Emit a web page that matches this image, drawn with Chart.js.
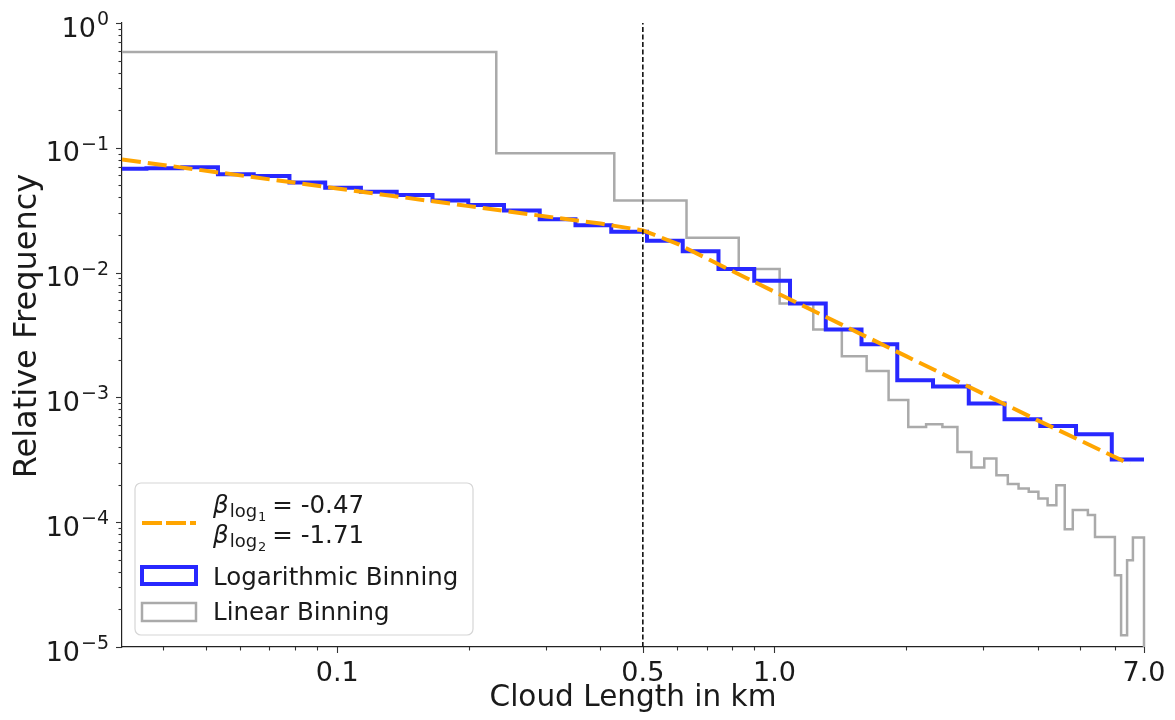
<!DOCTYPE html>
<html>
<head>
<meta charset="utf-8">
<script src="https://cdn.jsdelivr.net/npm/chart.js@4.4.1/dist/chart.umd.min.js"></script>
<style>
  html, body { margin: 0; padding: 0; background: #fff; }
  #wrap { width: 1175px; height: 720px; }
</style>
</head>
<body>
<div id="wrap"><canvas id="cloudChart" width="1175" height="720"></canvas></div>
<script>
// Logarithmic binning: bin edges (km) and relative frequency of each bin
const logEdges = [0.03034, 0.03662, 0.04421, 0.05337, 0.06443, 0.07777, 0.09388, 0.1133, 0.1368, 0.1652,
  0.1994, 0.2407, 0.2905, 0.3507, 0.4234, 0.5111, 0.6169, 0.7447, 0.8990, 1.0853,
  1.3101, 1.5815, 1.9091, 2.3046, 2.7820, 3.3583, 4.0541, 4.8939, 5.9077, 7.1316];
const logFreq = [0.0680, 0.0685, 0.0700, 0.0613, 0.0594, 0.0528, 0.0478, 0.0444, 0.0418, 0.0379,
  0.0348, 0.0314, 0.0268, 0.0240, 0.0212, 0.0180, 0.0148, 0.01071, 0.00860, 0.00566,
  0.00350, 0.00266, 0.00137, 0.00122, 0.000894, 0.000669, 0.000591, 0.000507, 0.000318];

// Linear binning
const linEdges = [0.032, 0.2311, 0.4302, 0.6293, 0.8285, 1.0276, 1.2267, 1.4258, 1.6249, 1.8240,
  2.0231, 2.2222, 2.4214, 2.6205, 2.8196, 3.0187, 3.2178, 3.4169, 3.6160, 3.8151,
  4.0142, 4.2133, 4.4125, 4.6116, 4.8107, 5.0098, 5.2089, 5.4080, 5.6071, 5.8062,
  6.0053, 6.2044, 6.4035, 6.6027, 6.8018, 7.0];
const linFreq = [0.585, 0.0903, 0.0379, 0.0190, 0.0107, 0.00566, 0.00350, 0.00214, 0.00163, 0.000951,
  0.000580, 0.000610, 0.000580, 0.000366, 0.000274, 0.000324, 0.000238, 0.000202, 0.000186, 0.000175,
  0.000155, 0.000137, 0.000198, 0.0000879, 0.000125, 0.000125, 0.000114, 0.0000762, 0.0000762, 0.0000762,
  0.0000376, 0.0000124, 0.0000496, 0.0000754, 0.0000754];

// broken power law fit
const fitX = [0.0322, 0.1, 0.2, 0.3, 0.4, 0.5, 0.6, 0.8, 1.0, 2.0, 4.0, 6.5];
const fitY = [0.0807, 0.0472, 0.0341, 0.0282, 0.0247, 0.0218, 0.0170, 0.0103, 0.00702, 0.00214, 0.000655, 0.000292];

const breakX = 0.5;
const xMin = 0.0322, xMax = 7.0;
const yMin = 1e-5, yMax = 1;

const xTicks = [0.1, 0.5, 1.0, 7.0];
const xTickLabels = ['0.1', '0.5', '1.0', '7.0'];
const xMinorTicks = [0.04, 0.05, 0.06, 0.07, 0.08, 0.09, 0.2, 0.3, 0.4, 0.6, 0.7, 0.8, 0.9, 2, 3, 4, 5, 6];
const yTicks = [1, 0.1, 0.01, 0.001, 0.0001, 0.00001];
const yTickExps = ['0', '−1', '−2', '−3', '−4', '−5'];

const FONT = '"DejaVu Sans", "Liberation Sans", sans-serif';
const BLUE = '#2828ff';
const GRAY = '#aaaaaa';
const ORANGE = '#ffa500';
const TEXT = '#1a1a1a';

// step outline of a histogram, like histtype='step'
function stepPoints(edges, freq, dropToBase) {
  const pts = freq.map((f, i) => ({x: edges[i], y: f}));
  pts.push({x: edges[edges.length - 1], y: freq[freq.length - 1]});
  if (dropToBase) pts.push({x: edges[edges.length - 1], y: yMin / 10});
  return pts;
}

// y minor ticks 2..9 x 10^k
const yMinorTicks = [];
for (let k = -5; k < 0; k++) {
  for (let m = 2; m <= 9; m++) yMinorTicks.push(m * Math.pow(10, k));
}

// tick marks (major long, minor short), 10^n labels and the y title
const tickMarks = {
  id: 'tickMarks',
  afterDraw(chart) {
    const {ctx, scales: {x, y}} = chart;
    ctx.save();
    ctx.strokeStyle = '#333';
    ctx.lineWidth = 1.1;
    const mark = (x1, y1, x2, y2) => {
      ctx.beginPath(); ctx.moveTo(x1, y1); ctx.lineTo(x2, y2); ctx.stroke();
    };
    xTicks.forEach(v => { const p = Math.round(x.getPixelForValue(v)) + 0.5; mark(p, x.top, p, x.top + 6); });
    xMinorTicks.forEach(v => { const p = Math.round(x.getPixelForValue(v)) + 0.5; mark(p, x.top, p, x.top + 3.5); });
    yTicks.forEach(v => { const p = Math.round(y.getPixelForValue(v)) + 0.5; mark(y.right - 6, p, y.right, p); });
    yMinorTicks.forEach(v => { const p = Math.round(y.getPixelForValue(v)) + 0.5; mark(y.right - 3.5, p, y.right, p); });

    // y labels: "10" with a raised exponent
    ctx.fillStyle = TEXT;
    ctx.textBaseline = 'alphabetic';
    ctx.textAlign = 'left';
    yTicks.forEach((v, i) => {
      const p = y.getPixelForValue(v);
      ctx.font = '19px ' + FONT;
      const ew = ctx.measureText(yTickExps[i]).width;
      ctx.font = '27px ' + FONT;
      const bw = ctx.measureText('10').width;
      const right = y.right - 13;
      const bx = right - ew - bw - 1;
      ctx.fillText('10', bx, p + 13.5);
      ctx.font = '19px ' + FONT;
      ctx.fillText(yTickExps[i], bx + bw + 1, p + 2);
    });

    // y axis title, a little above the middle of the axis
    ctx.save();
    ctx.translate(28, (y.top + y.bottom) / 2 - 9);
    ctx.rotate(-Math.PI / 2);
    ctx.textAlign = 'center';
    ctx.textBaseline = 'middle';
    ctx.font = '32px ' + FONT;
    ctx.fillText('Relative Frequency', 0, 0);
    ctx.restore();
    ctx.restore();
  }
};

// legend box in the lower left corner
const boxLegend = {
  id: 'boxLegend',
  afterDraw(chart) {
    const ctx = chart.ctx;
    const area = chart.chartArea;
    const left = area.left + 13, top = area.bottom - 164, w = 338, h = 152;
    ctx.save();
    ctx.beginPath();
    ctx.roundRect(left, top, w, h, 6);
    ctx.fillStyle = 'rgba(255,255,255,0.8)';
    ctx.fill();
    ctx.strokeStyle = '#d6d6d6';
    ctx.lineWidth = 1.2;
    ctx.stroke();

    const sx = left + 7, sw = 54, tx = left + 78;
    // fit line
    ctx.setLineDash([20, 4]);
    ctx.strokeStyle = ORANGE;
    ctx.lineWidth = 4;
    ctx.beginPath(); ctx.moveTo(sx, top + 40); ctx.lineTo(sx + sw, top + 40); ctx.stroke();
    ctx.setLineDash([]);
    // patches
    ctx.strokeStyle = BLUE; ctx.lineWidth = 4;
    ctx.strokeRect(sx, top + 84, sw, 17);
    ctx.strokeStyle = GRAY; ctx.lineWidth = 2.5;
    ctx.strokeRect(sx, top + 120, sw, 18);

    ctx.fillStyle = TEXT;
    ctx.textBaseline = 'alphabetic';
    ctx.textAlign = 'left';
    const beta = (base, sub, val) => {
      ctx.font = 'italic 24.5px ' + FONT;
      ctx.fillText('β', tx, base);
      let cx = tx + ctx.measureText('β').width + 1;
      ctx.font = '18px ' + FONT;
      ctx.fillText('log', cx, base + 4);
      cx += ctx.measureText('log').width + 1;
      ctx.font = '13px ' + FONT;
      ctx.fillText(sub, cx, base + 8);
      cx += ctx.measureText(sub).width + 6;
      ctx.font = '24.5px ' + FONT;
      ctx.fillText('= ' + val, cx, base);
    };
    beta(top + 30, '1', '-0.47');
    beta(top + 60, '2', '-1.71');
    ctx.font = '24.5px ' + FONT;
    ctx.fillText('Logarithmic Binning', tx, top + 102);
    ctx.fillText('Linear Binning', tx, top + 137);
    ctx.restore();
  }
};

const ctx = document.getElementById('cloudChart').getContext('2d');
new Chart(ctx, {
  type: 'line',
  data: {
    datasets: [
      {
        data: [{x: breakX, y: yMin}, {x: breakX, y: yMax}],
        borderColor: '#111',
        borderWidth: 1.6,
        borderDash: [5, 2.5],
        pointRadius: 0
      },
      {
        data: fitX.map((v, i) => ({x: v, y: fitY[i]})),
        borderColor: ORANGE,
        borderWidth: 4,
        borderDash: [19, 7],
        pointRadius: 0,
        tension: 0
      },
      {
        data: stepPoints(logEdges, logFreq, false),
        stepped: 'before',
        borderColor: BLUE,
        borderWidth: 4,
        pointRadius: 0
      },
      {
        data: stepPoints(linEdges, linFreq, true),
        stepped: 'before',
        borderColor: GRAY,
        borderWidth: 2.5,
        pointRadius: 0,
        clip: { left: 0, top: 0, right: 2, bottom: 0 }
      }
    ]
  },
  options: {
    responsive: false,
    animation: false,
    layout: { padding: { left: 0, top: 23, right: 31, bottom: 0 } },
    plugins: {
      legend: { display: false },
      tooltip: { enabled: false }
    },
    scales: {
      x: {
        type: 'logarithmic',
        min: xMin,
        max: xMax,
        afterBuildTicks: scale => { scale.ticks = xTicks.map(v => ({value: v})); },
        afterFit: scale => { scale.height = 73; scale.paddingLeft = 0; scale.paddingRight = 0; },
        grid: { display: false, drawTicks: false },
        border: { display: true, color: '#222', width: 1.2 },
        ticks: {
          autoSkip: false,
          maxRotation: 0,
          padding: 11,
          color: TEXT,
          font: { family: FONT, size: 27 },
          callback: v => xTickLabels[xTicks.indexOf(v)]
        },
        title: {
          display: true,
          text: 'Cloud Length in km',
          color: TEXT,
          font: { family: FONT, size: 29.5 },
          padding: { top: 0, bottom: 4 }
        }
      },
      y: {
        type: 'logarithmic',
        min: yMin,
        max: yMax,
        afterBuildTicks: scale => { scale.ticks = yTicks.map(v => ({value: v})); },
        afterFit: scale => { scale.width = 122; scale.paddingTop = 0; scale.paddingBottom = 0; },
        grid: { display: false, drawTicks: false },
        border: { display: true, color: '#222', width: 1.2 },
        ticks: { display: false },
        title: { display: false }
      }
    }
  },
  plugins: [tickMarks, boxLegend]
});
</script>
</body>
</html>
